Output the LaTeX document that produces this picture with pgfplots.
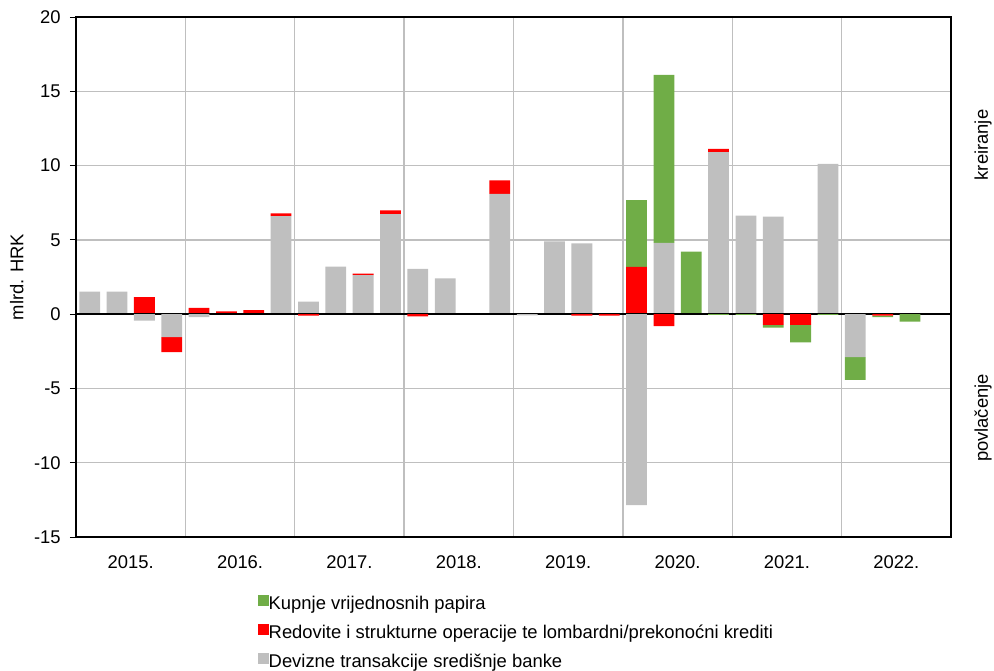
\documentclass[border=0pt]{standalone}
\usepackage{fontspec}
\setmainfont{Liberation Sans}
\usepackage{pgfplots}
\usepackage{pgfplotstable}
\pgfplotsset{compat=1.18}
\definecolor{kgreen}{HTML}{70AD47}
\definecolor{kred}{HTML}{FF0000}
\definecolor{kgray}{HTML}{BFBFBF}
\definecolor{gridgray}{HTML}{BFBFBF}

\pgfplotstableread{
x gpos rpos kpos gneg rneg kneg
0 1.52 0 0 0 0 0
1 1.52 0 0 0 0 0
2 0 1.15 0 -0.43 0 0
3 0 0 0 -1.55 -1.0 0
4 0 0.42 0 -0.2 0 0
5 0 0.18 0 0 0 0
6 0 0.27 0 0 0 0
7 6.6 0.18 0 0 0 0
8 0.85 0 0 0 -0.1 0
9 3.2 0 0 0 0 0
10 2.62 0.1 0 0 0 0
11 6.73 0.25 0 0 0 0
12 3.05 0 0 0 -0.15 0
13 2.41 0 0 0 0 0
14 0 0 0 0 0 0
15 8.1 0.9 0 0 0 0
16 0 0 0 -0.08 0 0
17 4.9 0 0 0 0 0
18 4.77 0 0 0 -0.1 0
19 0 0 0 0 -0.1 0
20 0 3.18 4.5 -12.85 0 0
21 4.8 0 11.3 0 -0.8 0
22 0 0 4.2 0 0 0
23 10.9 0.22 0 0 0 -0.05
24 6.63 0 0 0 0 -0.05
25 6.56 0 0 0 -0.72 -0.18
26 0 0 0 0 -0.72 -1.18
27 10.12 0 0 0 0 -0.05
28 0 0 0 -2.9 0 -1.53
29 0 0 0 0 -0.1 -0.1
30 0 0 0 0 0 -0.5
31 0 0 0 0 0 0
}\data

\pgfplotsset{
  common/.style={
    width=875bp, height=520bp, scale only axis,
    at={(0,0)}, anchor=south west,
    xmin=-0.5, xmax=31.5, ymin=-15, ymax=20,
    ybar stacked, bar width=0.76,
  }
}

\begin{document}
\fontsize{18.4bp}{22bp}\selectfont
\begin{tikzpicture}
\path[use as bounding box] (-76bp,-134bp) rectangle (918bp,537bp);
\begin{axis}[common, name=main,
  /pgf/number format/assume math mode=true,
  xtick={1.5,5.5,...,29.5},
  xticklabels={2015.,2016.,2017.,2018.,2019.,2020.,2021.,2022.},
  minor xtick={3.5,7.5,...,27.5},
  xminorgrids, ymajorgrids,
  xtick style={draw=none}, minor x tick style={draw=none},
  xticklabel style={yshift=-6bp},
  ytick={-15,-10,...,20},
  ytick pos=left, tick align=outside, major tick length=6bp,
  ytick style={black, line width=0.8bp},
  yticklabel style={xshift=-3bp},
  grid style={gridgray, line width=1.3bp},
  minor grid style={gridgray, line width=1.3bp},
  axis line style={black, line width=1.1bp},
  ylabel={mlrd. HRK},
  ylabel style={yshift=-2bp},
  reverse legend,
  legend style={at={(0.2046,-0.108)}, anchor=north west, draw=none, fill=none,
    row sep=10.5bp, cells={anchor=west},
    nodes={inner sep=0bp, text height=13bp, text depth=4bp}},
  legend image code/.code={\fill[#1] (0bp,-0.5bp) rectangle (10.5bp,10bp);},
]
\addplot[fill=kgray, draw=none] table[x=x, y=gpos] {\data};
\addlegendentry{Devizne transakcije središnje banke}
\addplot[fill=kred, draw=none] table[x=x, y=rpos] {\data};
\addlegendentry{Redovite i strukturne operacije te lombardni/prekonoćni krediti}
\addplot[fill=kgreen, draw=none] table[x=x, y=kpos] {\data};
\addlegendentry{Kupnje vrijednosnih papira}
\end{axis}
\begin{axis}[common, hide axis]
\addplot[fill=kgray, draw=none] table[x=x, y=gneg] {\data};
\addplot[fill=kred, draw=none] table[x=x, y=rneg] {\data};
\addplot[fill=kgreen, draw=none] table[x=x, y=kneg] {\data};
\draw[black, line width=1.3bp] (axis cs:-0.5,0) -- (axis cs:31.5,0);
\end{axis}
\path (main.south east) ++(32bp,392bp) node[rotate=90]{kreiranje};
\path (main.south east) ++(32bp,119bp) node[rotate=90]{povlačenje};
\end{tikzpicture}
\end{document}
